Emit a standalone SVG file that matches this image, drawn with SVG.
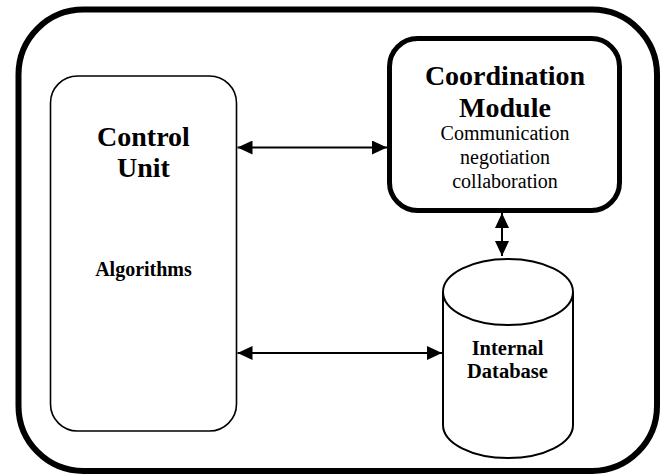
<svg xmlns="http://www.w3.org/2000/svg" width="667" height="475" viewBox="0 0 667 475">
<style>
text{font-family:'Liberation Serif','Times New Roman',Times,serif;text-anchor:middle;fill:#000}
.b{font-weight:bold}
.ln{stroke:#000;stroke-width:2;fill:none}
</style>
<defs>
<marker id="ah" viewBox="0 0 15 14" refX="15" refY="7" markerWidth="15" markerHeight="14" markerUnits="userSpaceOnUse" orient="auto-start-reverse">
<path d="M0,0 L15,7 L0,14 Z" fill="#000"/>
</marker>
</defs>
<rect width="667" height="475" fill="#fff"/>
<g id="container">
<rect x="18.5" y="9.5" width="638.5" height="461.5" rx="65" ry="65" fill="#fff" stroke="#000" stroke-width="6"/>
</g>
<g id="control-unit">
<rect x="50.5" y="76" width="186" height="355" rx="27" ry="27" fill="#fff" stroke="#000" stroke-width="1.6"/>
<text class="b" x="143.5" y="146" font-size="28">Control</text>
<text class="b" x="143.5" y="177" font-size="28">Unit</text>
<text class="b" x="143.5" y="276" font-size="20">Algorithms</text>
</g>
<g id="coordination-module">
<rect x="389.5" y="38.5" width="230" height="172" rx="28" ry="28" fill="#fff" stroke="#000" stroke-width="5"/>
<text class="b" x="505" y="85" font-size="28">Coordination</text>
<text class="b" x="505" y="117" font-size="28">Module</text>
<text x="505" y="140" font-size="20">Communication</text>
<text x="505" y="164" font-size="20">negotiation</text>
<text x="505" y="188" font-size="20">collaboration</text>
</g>
<g id="internal-database">
<path d="M443,292 L443,425 A65,33 0 0 0 573,425 L573,292" fill="#fff" stroke="#000" stroke-width="2"/>
<ellipse cx="508" cy="292" rx="65" ry="33" fill="#fff" stroke="#000" stroke-width="2"/>
<text class="b" x="507.5" y="355" font-size="20.5">Internal</text>
<text class="b" x="507.5" y="378" font-size="20.5">Database</text>
</g>
<g id="connectors">
<line class="ln" x1="237.5" y1="147.5" x2="387" y2="147.5" marker-start="url(#ah)" marker-end="url(#ah)"/>
<line class="ln" x1="237.5" y1="353" x2="442" y2="353" marker-start="url(#ah)" marker-end="url(#ah)"/>
<line class="ln" x1="502" y1="213" x2="502" y2="256" marker-start="url(#ah)" marker-end="url(#ah)"/>
</g>
</svg>
